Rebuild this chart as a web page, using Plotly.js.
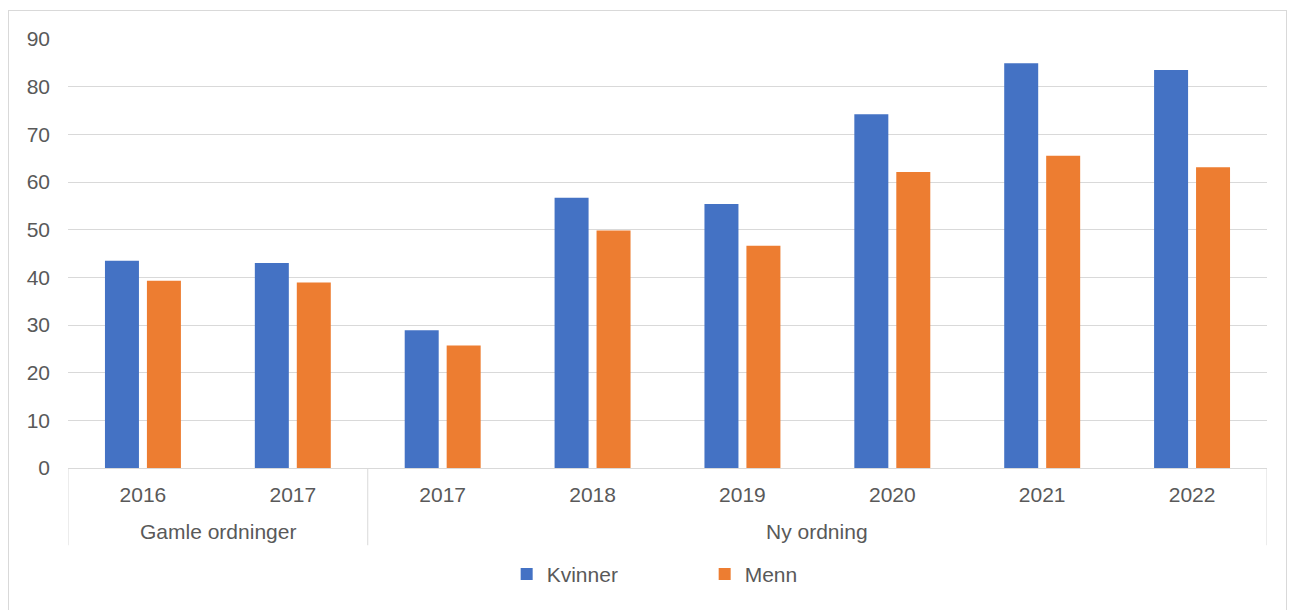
<!DOCTYPE html>
<html>
<head>
<meta charset="utf-8">
<script src="https://cdn.plot.ly/plotly-3.0.1.min.js"></script>
<style>
  html, body { margin: 0; padding: 0; background: #fff; }
  #frame { position: absolute; left: 8px; top: 10px; width: 1279px; height: 620px; border: 1px solid #d9d9d9; box-sizing: border-box; }
  #chart { position: absolute; left: 0; top: 0; width: 1296px; height: 610px; }
</style>
</head>
<body>
<div id="frame"></div>
<div id="chart"></div>
<script>
const groups = ['Gamle ordninger', 'Gamle ordninger', 'Ny ordning', 'Ny ordning', 'Ny ordning', 'Ny ordning', 'Ny ordning', 'Ny ordning'];
const years = ['2016', '2017', '2017', '2018', '2019', '2020', '2021', '2022'];
const kvinner = [43.5, 43.0, 28.9, 56.7, 55.4, 74.2, 84.9, 83.5];
const menn = [39.3, 38.9, 25.7, 49.8, 46.6, 62.1, 65.5, 63.1];
const seriesNames = ['Kvinner', 'Menn'];
const seriesColors = ['#4472C4', '#ED7D31'];

const textColor = '#595959';
const font = { family: 'Arial, "Liberation Sans", sans-serif', size: 21, color: textColor };
const lineColor = '#d9d9d9';

const idx = years.map((_, i) => i);

const traces = [kvinner, menn].map((vals, i) => ({
  type: 'bar',
  name: seriesNames[i],
  x: idx,
  y: vals,
  customdata: groups,
  marker: { color: seriesColors[i], line: { width: 0 } },
  hovertemplate: '%{customdata} %{x}: %{y}<extra>' + seriesNames[i] + '</extra>'
}));

// group spans from the groups array
const spans = [];
groups.forEach((g, i) => {
  if (!spans.length || spans[spans.length - 1].name !== g) spans.push({ name: g, start: i, end: i });
  else spans[spans.length - 1].end = i;
});

const groupLabelY = -0.148;
const dividerBottom = -0.180;

const annotations = spans.map(s => ({
  x: (s.start + s.end) / 2, xref: 'x',
  y: groupLabelY, yref: 'paper',
  text: s.name, showarrow: false,
  xanchor: 'center', yanchor: 'middle',
  font: font
}));

const dividerXs = [spans[0].start - 0.5].concat(spans.map(s => s.end + 0.5));
const shapes = dividerXs.map(x => ({
  type: 'line', xref: 'x', yref: 'paper',
  x0: x, x1: x, y0: 0, y1: dividerBottom,
  line: { color: lineColor, width: 1 }
}));

const layout = {
  width: 1296,
  height: 610,
  margin: { l: 68, r: 29, t: 39, b: 141.5, autoexpand: false },
  paper_bgcolor: 'rgba(0,0,0,0)',
  plot_bgcolor: 'rgba(0,0,0,0)',
  font: font,
  barmode: 'group',
  bargap: 0.44,
  bargroupgap: 0.19,
  showlegend: true,
  legend: {
    orientation: 'h',
    x: 0.531, xanchor: 'center',
    y: -0.248, yanchor: 'middle',
    font: font,
    entrywidth: 153,
    entrywidthmode: 'pixels',
    itemwidth: 30
  },
  annotations: annotations,
  shapes: shapes,
  xaxis: {
    type: 'linear',
    range: [-0.5, years.length - 0.5],
    tickmode: 'array',
    tickvals: idx,
    ticktext: years,
    showgrid: false,
    showline: true,
    linecolor: lineColor,
    linewidth: 1,
    ticks: '',
    ticklabelstandoff: 8,
    tickfont: font,
    zeroline: false
  },
  yaxis: {
    range: [0, 90],
    dtick: 10,
    tick0: 0,
    showgrid: true,
    gridcolor: lineColor,
    gridwidth: 1,
    zeroline: false,
    showline: false,
    ticks: '',
    ticklabelstandoff: 17,
    tickfont: font
  }
};

Plotly.newPlot('chart', traces, layout, { displayModeBar: false, staticPlot: true });
</script>
</body>
</html>
